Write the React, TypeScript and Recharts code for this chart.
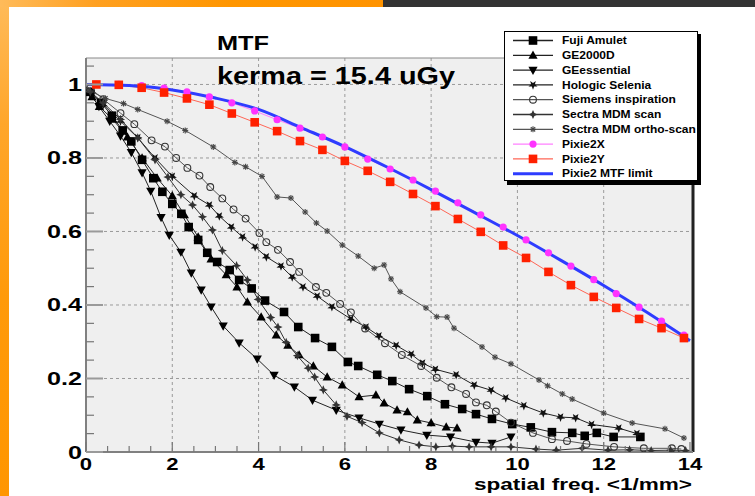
import React from 'react';
import { LineChart, Line, XAxis, YAxis, CartesianGrid, ReferenceLine, Legend } from 'recharts';

// ---------- data ----------
const fujiX = [0.1, 0.35, 0.6, 0.85, 1.05, 1.3, 1.56, 1.77, 2.0, 2.21, 2.38, 2.6, 2.81, 3.04, 3.33, 3.55, 3.84, 4.15, 4.59, 4.92, 5.31, 5.7, 6.07, 6.31, 6.75, 7.1, 7.49, 7.91, 8.32, 8.72, 9.04, 9.41, 9.88, 10.31, 10.8, 11.27, 11.56, 11.84, 12.23, 12.85];
const fujiY = [0.98, 0.95, 0.915, 0.875, 0.845, 0.795, 0.745, 0.708, 0.675, 0.648, 0.612, 0.577, 0.542, 0.517, 0.495, 0.468, 0.445, 0.412, 0.381, 0.34, 0.31, 0.286, 0.245, 0.234, 0.21, 0.193, 0.171, 0.152, 0.13, 0.117, 0.103, 0.09, 0.076, 0.067, 0.054, 0.052, 0.044, 0.052, 0.041, 0.041];

const ge2000dX = [0.14, 0.31, 0.62, 0.96, 1.3, 1.65, 2.0, 2.28, 2.6, 2.9, 3.25, 3.5, 3.74, 4.06, 4.41, 4.68, 4.94, 5.27, 5.59, 5.94, 6.33, 6.72, 6.91, 7.21, 7.45, 7.68, 8.0, 8.35, 8.6];
const ge2000dY = [0.966, 0.94, 0.905, 0.857, 0.8, 0.745, 0.697, 0.645, 0.585, 0.525, 0.482, 0.449, 0.408, 0.367, 0.318, 0.29, 0.264, 0.234, 0.204, 0.182, 0.15, 0.155, 0.133, 0.114, 0.109, 0.087, 0.079, 0.068, 0.065];

const geEssX = [0.1, 0.3, 0.55, 0.8, 1.05, 1.3, 1.5, 1.74, 1.93, 2.2, 2.44, 2.67, 2.9, 3.18, 3.55, 3.97, 4.36, 4.83, 5.25, 5.8, 6.33, 6.8, 7.3, 7.9, 8.45, 9.04, 9.41, 9.85];
const geEssY = [0.975, 0.94, 0.9, 0.86, 0.815, 0.76, 0.71, 0.638, 0.59, 0.544, 0.487, 0.441, 0.395, 0.343, 0.297, 0.253, 0.209, 0.177, 0.141, 0.114, 0.093, 0.076, 0.06, 0.046, 0.041, 0.027, 0.024, 0.041];

const hologicX = [0.1, 0.4, 0.8, 1.2, 1.6, 2.0, 2.51, 2.86, 3.09, 3.37, 3.63, 3.92, 4.18, 4.52, 4.78, 5.03, 5.36, 5.7, 6.14, 6.49, 6.79, 7.19, 7.54, 7.8, 8.1, 8.58, 9.0, 9.39, 9.73, 10.15, 10.6, 11.0, 11.35, 11.72, 12.35, 12.77];
const hologicY = [0.98, 0.945, 0.9, 0.855, 0.8, 0.75, 0.697, 0.672, 0.642, 0.612, 0.585, 0.558, 0.531, 0.506, 0.476, 0.449, 0.424, 0.395, 0.362, 0.34, 0.316, 0.29, 0.266, 0.242, 0.225, 0.21, 0.182, 0.168, 0.147, 0.126, 0.106, 0.095, 0.093, 0.075, 0.065, 0.05];

const siemensX = [0.1, 0.4, 0.8, 1.12, 1.52, 1.83, 2.09, 2.35, 2.63, 2.88, 3.16, 3.42, 3.7, 4.02, 4.18, 4.45, 4.73, 4.94, 5.33, 5.57, 5.89, 6.14, 6.47, 6.93, 7.32, 7.77, 8.13, 8.47, 8.81, 9.04, 9.29, 9.5, 9.85, 10.36, 10.8, 11.15, 11.6, 12.24, 12.93, 13.58, 13.8];
const siemensY = [0.99, 0.96, 0.922, 0.892, 0.848, 0.831, 0.8, 0.773, 0.752, 0.721, 0.69, 0.66, 0.635, 0.596, 0.571, 0.55, 0.517, 0.49, 0.449, 0.433, 0.403, 0.38, 0.336, 0.296, 0.264, 0.234, 0.202, 0.176, 0.158, 0.135, 0.127, 0.11, 0.08, 0.052, 0.035, 0.03, 0.022, 0.014, 0.01, 0.01, 0.008];

const sectraScanX = [0.1, 0.4, 0.8, 1.2, 1.6, 1.9, 2.2, 2.47, 2.7, 2.93, 3.16, 3.49, 3.74, 3.99, 4.28, 4.45, 4.64, 4.9, 5.15, 5.3, 5.5, 5.8, 6.05, 6.4, 6.8, 7.26, 7.72, 8.11, 8.49, 8.88, 9.39, 9.85, 10.43, 10.9, 11.5, 12.1, 12.6, 13.1, 13.55, 13.9];
const sectraScanY = [0.98, 0.95, 0.905, 0.855, 0.795, 0.748, 0.7, 0.672, 0.64, 0.604, 0.548, 0.507, 0.468, 0.415, 0.366, 0.34, 0.298, 0.262, 0.228, 0.204, 0.169, 0.128, 0.097, 0.08, 0.052, 0.033, 0.019, 0.014, 0.016, 0.014, 0.014, 0.014, 0.008, 0.005, 0.01, 0.005, 0.006, 0.004, 0.005, 0.004];

const sectraOrthoX = [0.05, 0.45, 0.87, 1.2, 1.88, 2.3, 2.95, 3.45, 3.7, 4.08, 4.43, 4.75, 5.08, 5.34, 5.59, 5.94, 6.31, 6.68, 6.91, 7.07, 7.28, 7.88, 8.13, 8.37, 8.53, 9.18, 9.48, 9.85, 10.5, 10.7, 11.04, 11.27, 12.0, 12.66, 13.42, 13.86];
const sectraOrthoY = [0.985, 0.962, 0.948, 0.932, 0.9, 0.875, 0.83, 0.788, 0.776, 0.75, 0.694, 0.691, 0.653, 0.623, 0.601, 0.563, 0.533, 0.5, 0.509, 0.471, 0.436, 0.392, 0.368, 0.367, 0.337, 0.286, 0.258, 0.24, 0.196, 0.18, 0.158, 0.144, 0.106, 0.079, 0.063, 0.038];

const pixieFreq = [0.24, 0.76, 1.29, 1.81, 2.34, 2.86, 3.38, 3.91, 4.43, 4.96, 5.48, 6.0, 6.53, 7.05, 7.58, 8.1, 8.62, 9.15, 9.67, 10.2, 10.72, 11.24, 11.77, 12.29, 12.82, 13.34, 13.86];
const pixie2XMtf = [1.0, 1.0, 0.997, 0.99, 0.98, 0.966, 0.95, 0.928, 0.904, 0.881, 0.857, 0.83, 0.797, 0.77, 0.74, 0.71, 0.678, 0.645, 0.612, 0.577, 0.542, 0.506, 0.469, 0.431, 0.394, 0.356, 0.318];
const pixie2YMtf = [1.0, 0.999, 0.991, 0.978, 0.962, 0.945, 0.921, 0.897, 0.873, 0.846, 0.822, 0.792, 0.765, 0.735, 0.702, 0.669, 0.634, 0.599, 0.562, 0.528, 0.49, 0.454, 0.422, 0.392, 0.362, 0.337, 0.31];

const limitX = [0, 1, 2, 3, 4, 5, 6, 7, 8, 9, 10, 11, 12, 13, 14];
const limitY = [1.0, 0.997, 0.985, 0.963, 0.932, 0.882, 0.831, 0.774, 0.714, 0.652, 0.589, 0.522, 0.453, 0.38, 0.303];

const xTicks = [0, 0.5, 1, 1.5, 2, 2.5, 3, 3.5, 4, 4.5, 5, 5.5, 6, 6.5, 7, 7.5, 8, 8.5, 9, 9.5, 10, 10.5, 11, 11.5, 12, 12.5, 13, 13.5, 14];
const yTicks = [0, 0.05, 0.1, 0.15, 0.2, 0.25, 0.3, 0.35, 0.4, 0.45, 0.5, 0.55, 0.6, 0.65, 0.7, 0.75, 0.8, 0.85, 0.9, 0.95, 1, 1.05];
const xMajor = [2, 4, 6, 8, 10, 12];
const yMajor = [0.2, 0.4, 0.6, 0.8, 1];
const xMax = 14.07;
const yMax = 1.072;

const zip = (xs: number[], ys: number[]) => xs.map((x, i) => ({ x, y: ys[i] }));

type Series = { name: string; data: { x: number; y: number }[]; kind: string; line: string; marker: string; width?: number; curve?: 'linear' | 'monotone' };

const series: Series[] = [
  { name: 'Fuji Amulet', data: zip(fujiX, fujiY), kind: 'square', line: '#222', marker: '#000' },
  { name: 'GE2000D', data: zip(ge2000dX, ge2000dY), kind: 'triUp', line: '#222', marker: '#000' },
  { name: 'GEessential', data: zip(geEssX, geEssY), kind: 'triDown', line: '#222', marker: '#000' },
  { name: 'Hologic Selenia', data: zip(hologicX, hologicY), kind: 'star', line: '#222', marker: '#111' },
  { name: 'Siemens inspiration', data: zip(siemensX, siemensY), kind: 'circleOpen', line: '#555', marker: '#333' },
  { name: 'Sectra MDM scan', data: zip(sectraScanX, sectraScanY), kind: 'cross4', line: '#333', marker: '#333' },
  { name: 'Sectra MDM ortho-scan', data: zip(sectraOrthoX, sectraOrthoY), kind: 'asterisk', line: '#555', marker: '#444' },
  { name: 'Pixie2X', data: zip(pixieFreq, pixie2XMtf), kind: 'circle', line: '#ff80ff', marker: '#ff33ff' },
  { name: 'Pixie2Y', data: zip(pixieFreq, pixie2YMtf), kind: 'square', line: '#ff6656', marker: '#ff2000' },
  { name: 'Pixie2 MTF limit', data: zip(limitX, limitY), kind: 'none', line: '#2e3cff', marker: '#2e3cff', width: 3, curve: 'monotone' },
];

const FONT = '"Liberation Sans", Arial, Helvetica, sans-serif';

const Marker = ({ kind, cx, cy, color }: { kind: string; cx: number; cy: number; color: string }) => {
  if (cx == null || cy == null || isNaN(cx) || isNaN(cy)) return <g />;
  switch (kind) {
    case 'square':
      return <rect x={cx - 4.3} y={cy - 4.3} width={8.6} height={8.6} fill={color} />;
    case 'triUp':
      return <polygon points={`${cx},${cy - 4.8} ${cx + 4.6},${cy + 3.4} ${cx - 4.6},${cy + 3.4}`} fill={color} />;
    case 'triDown':
      return <polygon points={`${cx},${cy + 4.8} ${cx + 4.6},${cy - 3.4} ${cx - 4.6},${cy - 3.4}`} fill={color} />;
    case 'star': {
      const pts: string[] = [];
      for (let k = 0; k < 10; k++) {
        const r = k % 2 === 0 ? 4.8 : 2.0;
        const a = Math.PI / 2 + (k * Math.PI) / 5;
        pts.push(`${cx + r * Math.cos(a)},${cy + r * Math.sin(a)}`);
      }
      return <polygon points={pts.join(' ')} fill={color} />;
    }
    case 'circleOpen':
      return <circle cx={cx} cy={cy} r={3.4} fill="none" stroke={color} strokeWidth={1.1} />;
    case 'circle':
      return <circle cx={cx} cy={cy} r={3.6} fill={color} />;
    case 'cross4':
      return (
        <polygon
          points={`${cx},${cy - 4.6} ${cx + 1.4},${cy - 1.4} ${cx + 4.6},${cy} ${cx + 1.4},${cy + 1.4} ${cx},${cy + 4.6} ${cx - 1.4},${cy + 1.4} ${cx - 4.6},${cy} ${cx - 1.4},${cy - 1.4}`}
          fill={color}
        />
      );
    case 'asterisk':
      return (
        <g stroke={color} strokeWidth={1.1}>
          <line x1={cx - 3} y1={cy} x2={cx + 3} y2={cy} />
          <line x1={cx} y1={cy - 3} x2={cx} y2={cy + 3} />
          <line x1={cx - 2.2} y1={cy - 2.2} x2={cx + 2.2} y2={cy + 2.2} />
          <line x1={cx - 2.2} y1={cy + 2.2} x2={cx + 2.2} y2={cy - 2.2} />
        </g>
      );
    default:
      return <g />;
  }
};

const makeDot = (s: Series) => (props: any) => (
  <Marker key={`${s.name}-${props.index}`} kind={s.kind} cx={props.cx} cy={props.cy} color={s.marker} />
);

const near = (v: number, list: number[]) => list.some((m) => Math.abs(m - v) < 1e-6);

const XTick = (props: any) => {
  const { x, y, payload } = props;
  const v = payload.value as number;
  const major = Math.abs(v / 2 - Math.round(v / 2)) < 1e-6;
  return (
    <g>
      <line x1={x} x2={x} y1={y} y2={y - (major ? 10 : 6)} stroke="#777" strokeWidth={1.2} />
      {major && (
        <g transform={`translate(${x},${y + 18}) scale(1.3,1)`}>
          <text x={0} y={0} textAnchor="middle" fontSize={17} fontWeight="bold" fontFamily={FONT} fill="#000">
            {String(v)}
          </text>
        </g>
      )}
    </g>
  );
};

const YTick = (props: any) => {
  const { x, y, payload } = props;
  const v = payload.value as number;
  const major = v === 0 || near(v, yMajor);
  return (
    <g>
      <line x1={x} x2={x + (major ? 17 : 8)} y1={y} y2={y} stroke={major ? '#9a9a9a' : '#777'} strokeWidth={major ? 2 : 1.2} />
      {major && (
        <g transform={`translate(${x - 4},${y + 6.5}) scale(1.4,1)`}>
          <text x={0} y={0} textAnchor="end" fontSize={18} fontWeight="bold" fontFamily={FONT} fill="#000">
            {String(v)}
          </text>
        </g>
      )}
    </g>
  );
};

const LegendBox = () => (
  <svg width={200} height={158} style={{ display: 'block' }}>
    <rect x={3} y={3} width={194} height={151} fill="#000" />
    <rect x={0.5} y={0.5} width={193} height={149} fill="#fff" stroke="#000" strokeWidth={1} />
    {series.map((s, i) => {
      const cy = 9.5 + 14.8 * i;
      return (
        <g key={s.name}>
          <line x1={9} x2={49} y1={cy} y2={cy} stroke={s.line} strokeWidth={s.width ? 3 : 1.3} />
          <Marker kind={s.kind} cx={29} cy={cy} color={s.marker} />
          <g transform={`translate(58,${cy + 3.6}) scale(1.2,1)`}>
            <text x={0} y={0} fontSize={10} fontWeight="bold" fontFamily={FONT} fill="#000">
              {s.name}
            </text>
          </g>
        </g>
      );
    })}
  </svg>
);

export default function App() {
  return (
    <div style={{ position: 'absolute', left: 0, top: 0, width: 755, height: 496, background: '#fff', overflow: 'hidden' }}>
      <div style={{ position: 'absolute', left: 0, top: 0, width: 9, height: 496, background: 'linear-gradient(to bottom, #ffbb5a 0%, #ffa62a 25%, #ff9a0a 60%, #ff9600 100%)' }} />
      <div style={{ position: 'absolute', left: 0, top: 0, width: 383, height: 7, background: 'linear-gradient(to right, #ffbb5a 0%, #ffa020 25%, #ff9600 60%, #ff9300 100%)' }} />
      <div style={{ position: 'absolute', left: 383, top: 0, width: 372, height: 7, background: '#333' }} />
      <div style={{ position: 'absolute', left: 0, top: 0 }}>
        <LineChart width={755} height={496} margin={{ top: 58, right: 62, bottom: 14, left: 26 }}>
          <CartesianGrid
            fill="#efefef"
            stroke="#9a9a9a"
            strokeDasharray="3 3"
            horizontalValues={yMajor}
            verticalValues={xMajor}
          />
          <XAxis
            type="number"
            dataKey="x"
            domain={[0, xMax]}
            ticks={xTicks}
            interval={0}
            allowDataOverflow
            height={30}
            tickSize={0}
            tickMargin={0}
            tickLine={false}
            axisLine={{ stroke: '#808080', strokeWidth: 2 }}
            tick={<XTick />}
          />
          <YAxis
            type="number"
            domain={[0, yMax]}
            ticks={yTicks}
            interval={0}
            allowDataOverflow
            width={60}
            tickSize={0}
            tickMargin={0}
            tickLine={false}
            axisLine={{ stroke: '#808080', strokeWidth: 2 }}
            tick={<YTick />}
          />
          <ReferenceLine y={yMax} stroke="#8a8a8a" strokeWidth={1.2} />
          <ReferenceLine x={xMax} stroke="#222" strokeWidth={3} />
          {series.map((s) => (
            <Line
              key={s.name}
              data={s.data}
              dataKey="y"
              name={s.name}
              type={s.curve || 'linear'}
              stroke={s.line}
              strokeWidth={s.width || 1}
              dot={s.kind === 'none' ? false : makeDot(s)}
              activeDot={false}
              isAnimationActive={false}
              legendType="none"
            />
          ))}
          <Legend
            layout="horizontal"
            align="center"
            verticalAlign="middle"
            content={() => <LegendBox />}
            wrapperStyle={{ left: 504, top: 31, width: 200, height: 158 }}
          />
        </LineChart>
      </div>
      <svg width={755} height={496} style={{ position: 'absolute', left: 0, top: 0, pointerEvents: 'none' }}>
        <text x={217} y={50} fontSize={21} fontWeight="bold" fontFamily={FONT} textLength={52} lengthAdjust="spacingAndGlyphs" fill="#000">
          MTF
        </text>
        <text x={217} y={84} fontSize={23.5} fontWeight="bold" fontFamily={FONT} textLength={238} lengthAdjust="spacingAndGlyphs" fill="#000">
          kerma = 15.4 uGy
        </text>
        <text x={474} y={490} fontSize={16} fontWeight="bold" fontFamily={FONT} textLength={218} lengthAdjust="spacingAndGlyphs" fill="#000">
          spatial freq. &lt;1/mm&gt;
        </text>
      </svg>
    </div>
  );
}
